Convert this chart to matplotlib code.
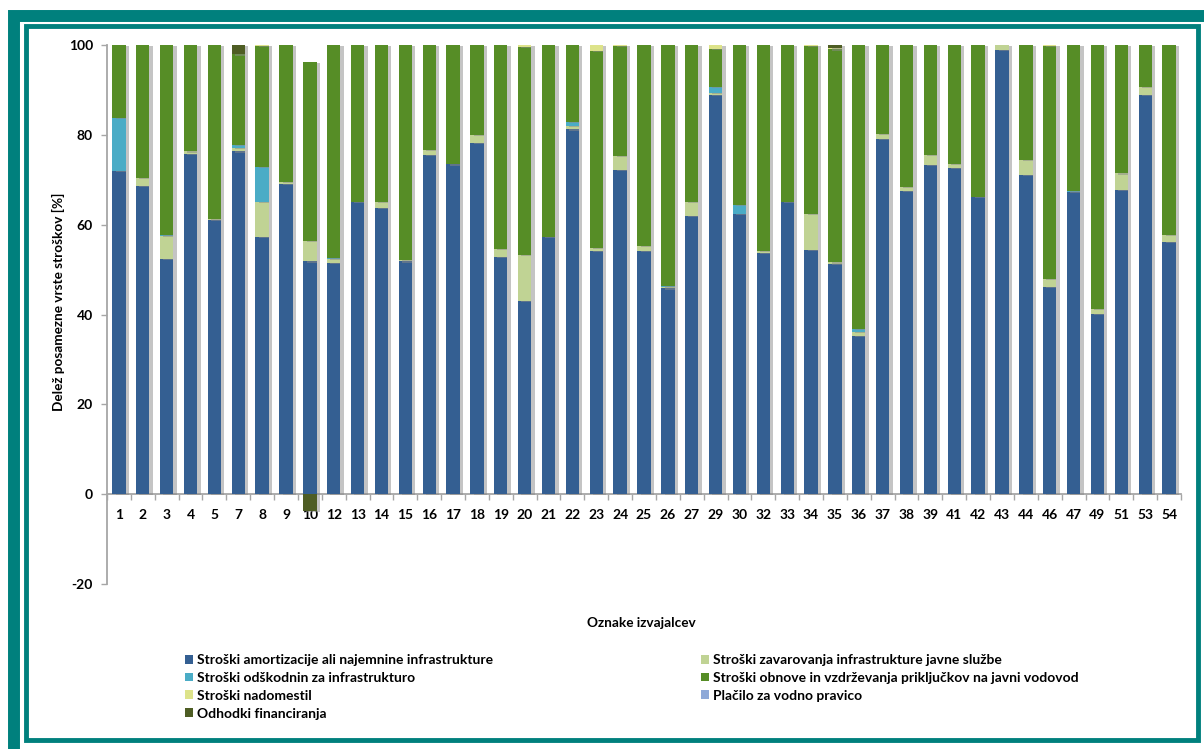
import numpy as np
import matplotlib
matplotlib.use('Agg')
import matplotlib.pyplot as plt
from matplotlib.patches import Rectangle, Patch
import matplotlib.patheffects as pe

plt.rcParams['font.family'] = ['Lato', 'DejaVu Sans']

labels = ['1', '2', '3', '4', '5', '7', '8', '9', '10', '12', '13', '14', '15', '16', '17',
          '18', '19', '20', '21', '22', '23', '24', '25', '26', '27', '29', '30', '32', '33',
          '34', '35', '36', '37', '38', '39', '41', '42', '43', '44', '46', '47', '49', '51',
          '53', '54']

amortizacija = [71.9, 68.7, 52.3, 75.7, 61.0, 76.3, 57.2, 69.1, 51.8, 51.5, 65.1, 63.8, 51.8, 75.5, 73.4,
                78.2, 52.8, 43.1, 57.2, 81.2, 54.1, 72.2, 54.1, 45.8, 62.0, 88.9, 62.4, 53.7, 65.1,
                54.4, 51.3, 35.3, 79.1, 67.5, 73.3, 72.6, 66.1, 98.9, 71.0, 46.1, 67.2, 40.2, 67.7,
                88.8, 56.1]
zavarovanja = [0.0, 1.7, 5.1, 0.6, 0.3, 0.8, 7.8, 0.5, 4.5, 0.9, 0.0, 1.2, 0.3, 1.1, 0.0,
               1.8, 1.8, 10.2, 0.0, 0.7, 0.8, 3.1, 1.1, 0.4, 3.0, 0.5, 0.0, 0.5, 0.0,
               8.0, 0.3, 0.9, 1.0, 0.9, 2.2, 1.0, 0.0, 1.1, 3.5, 1.9, 0.0, 1.0, 3.7,
               1.8, 1.6]
odskodnine = [11.8, 0.0, 0.3, 0.0, 0.0, 0.7, 7.8, 0.0, 0.0, 0.2, 0.0, 0.0, 0.0, 0.0, 0.2,
              0.0, 0.0, 0.0, 0.0, 1.0, 0.0, 0.0, 0.0, 0.2, 0.0, 1.2, 1.9, 0.0, 0.0,
              0.0, 0.0, 0.5, 0.0, 0.0, 0.0, 0.0, 0.0, 0.0, 0.0, 0.0, 0.2, 0.0, 0.0,
              0.0, 0.0]
obnove = [16.3, 29.6, 42.3, 23.7, 38.7, 20.1, 26.9, 30.4, 40.0, 47.4, 34.9, 35.0, 47.9, 23.4, 26.4,
          20.0, 45.4, 46.3, 42.8, 17.1, 43.7, 24.5, 44.8, 53.6, 35.0, 8.6, 35.7, 45.8, 34.9,
          37.3, 47.4, 63.3, 19.9, 31.6, 24.5, 26.4, 33.9, 0.0, 25.5, 51.8, 32.6, 58.8, 28.6,
          9.4, 42.3]
nadomestila = [0.0, 0.0, 0.0, 0.0, 0.0, 0.0, 0.3, 0.0, 0.0, 0.0, 0.0, 0.0, 0.0, 0.0, 0.0,
               0.0, 0.0, 0.4, 0.0, 0.0, 1.4, 0.2, 0.0, 0.0, 0.0, 0.8, 0.0, 0.0, 0.0,
               0.3, 0.3, 0.0, 0.0, 0.0, 0.0, 0.0, 0.0, 0.0, 0.0, 0.2, 0.0, 0.0, 0.0,
               0.0, 0.0]
vodna_pravica = [0.0] * 45
odhodki_financiranja = [0.0, 0.0, 0.0, 0.0, 0.0, 2.1, 0.0, 0.0, -3.7, 0.0, 0.0, 0.0, 0.0, 0.0, 0.0,
                        0.0, 0.0, 0.0, 0.0, 0.0, 0.0, 0.0, 0.0, 0.0, 0.0, 0.0, 0.0, 0.0, 0.0,
                        0.0, 0.7, 0.0, 0.0, 0.0, 0.0, 0.0, 0.0, 0.0, 0.0, 0.0, 0.0, 0.0, 0.0,
                        0.0, 0.0]

series_names = ['Stroški amortizacije ali najemnine infrastrukture',
                'Stroški zavarovanja infrastrukture javne službe',
                'Stroški odškodnin za infrastrukturo',
                'Stroški obnove in vzdrževanja priključkov na javni vodovod',
                'Stroški nadomestil',
                'Plačilo za vodno pravico',
                'Odhodki financiranja']
series_values = [amortizacija, zavarovanja, odskodnine, obnove, nadomestila, vodna_pravica,
                 odhodki_financiranja]
colors = ['#345f92', '#c0d394', '#4aacc6', '#568d26', '#dde38a', '#8ea9d8', '#4e5d24']

yticks = [-20, 0, 20, 40, 60, 80, 100]

W, H = 1204, 749
fig = plt.figure(figsize=(W / 100, H / 100), dpi=100)
fig.patch.set_facecolor('white')


def fx(px):
    return px / W


def fy(py):
    return 1 - py / H


# decorative frames
teal = '#00807d'
fig.add_artist(Rectangle((fx(14), fy(751)), fx(1208) - fx(14), fy(16) - fy(751),
                         transform=fig.transFigure, fill=False, edgecolor=teal, linewidth=8.6))
fig.add_artist(Rectangle((fx(25.5), fy(740)), fx(1198) - fx(25.5), fy(26) - fy(740),
                         transform=fig.transFigure, fill=False, edgecolor=teal, linewidth=3.5))

ax = fig.add_axes([fx(107), fy(584), fx(1181) - fx(107), fy(45) - fy(584)])
x = np.arange(len(labels))
pos_base = np.zeros(len(labels))
neg_base = np.zeros(len(labels))
shadow = [pe.SimplePatchShadow(offset=(2.4, -0.8), shadow_rgbFace='#8a8a8a', alpha=0.5), pe.Normal()]
for name, vals, col in zip(series_names, series_values, colors):
    v = np.array(vals, dtype=float)
    bottom = np.where(v >= 0, pos_base, neg_base)
    bars = ax.bar(x, v, 0.56, bottom=bottom, color=col, label=name, zorder=3)
    for b in bars:
        b.set_path_effects(shadow)
    pos_base = pos_base + np.where(v > 0, v, 0)
    neg_base = neg_base + np.where(v < 0, v, 0)

ax.set_xlim(-0.5, len(labels) - 0.5)
ax.set_ylim(-20, 100)
ax.set_yticks(yticks)
ax.set_yticklabels([str(t) for t in yticks])
ax.set_xticks(x)
ax.set_xticklabels(labels)
ax.set_xticks(np.arange(-0.5, len(labels), 1), minor=True)

axis_col = '#a6a6a6'
for s in ['top', 'right']:
    ax.spines[s].set_visible(False)
ax.spines['left'].set_color(axis_col)
ax.spines['left'].set_linewidth(1.3)
ax.spines['bottom'].set_position(('data', 0))
ax.spines['bottom'].set_color(axis_col)
ax.spines['bottom'].set_linewidth(1.3)
ax.spines['bottom'].set_zorder(2)

ax.tick_params(axis='y', length=4, width=1, color=axis_col, pad=6,
               labelsize=10, labelcolor='black')
ax.tick_params(axis='x', which='major', length=0, pad=11, labelsize=10, labelcolor='black')
ax.tick_params(axis='x', which='minor', length=4, width=1, color=axis_col)
for lab in ax.get_xticklabels() + ax.get_yticklabels():
    lab.set_fontweight('bold')
ax.set_facecolor('white')

fig.text(fx(58), fy(302), 'Delež posamezne vrste stroškov [%]', rotation=90,
         ha='center', va='center', fontsize=9.8, fontweight='bold')
fig.text(fx(641), fy(623), 'Oznake izvajalcev', ha='center', va='center',
         fontsize=9.8, fontweight='bold')

handles = [Patch(facecolor=c) for c in colors]
left_idx = [0, 2, 4, 6]
right_idx = [1, 3, 5]
kw = dict(frameon=False, handlelength=0.55, handleheight=0.6,
          handletextpad=0.3, labelspacing=0.42, loc='upper left', borderpad=0,
          borderaxespad=0, prop={'weight': 'bold', 'size': 10})
fig.legend([handles[i] for i in left_idx], [series_names[i] for i in left_idx],
           bbox_to_anchor=(fx(185), fy(654)), **kw)
fig.legend([handles[i] for i in right_idx], [series_names[i] for i in right_idx],
           bbox_to_anchor=(fx(701), fy(654)), **kw)

fig.savefig('out.png', dpi=100, facecolor='white')
